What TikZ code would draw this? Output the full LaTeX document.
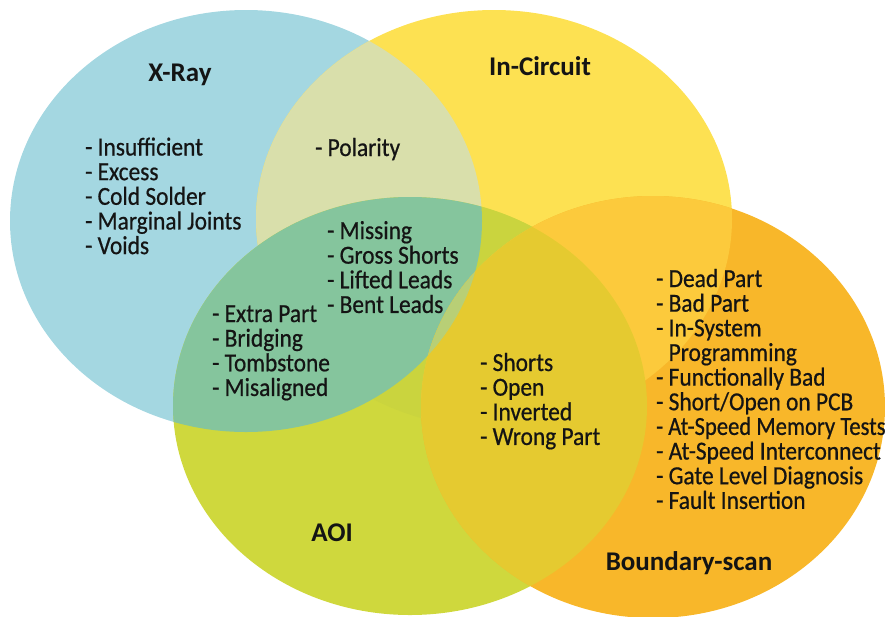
\documentclass[tikz,border=0pt]{standalone}
\usepackage{fontspec}
\setmainfont{Carlito}
\newfontfamily\listfont[FakeStretch=0.9, FakeBold=0.6]{Carlito}
\newfontfamily\listnarrow[FakeStretch=0.87, FakeBold=0.6]{Carlito}

% base colours of the four test methods
\definecolor{cX}{HTML}{A4D7E1}
\definecolor{cIC}{HTML}{FDE152}
\definecolor{cAOI}{HTML}{CFD83D}
\definecolor{cBS}{HTML}{F8B72A}
% colours of the overlaps
\definecolor{cXIC}{HTML}{D9DFAB}
\definecolor{cXAOI}{HTML}{85C59D}
\definecolor{cICAOI}{HTML}{CAD43E}
\definecolor{cICBS}{HTML}{FCCA3C}
\definecolor{cAOIBS}{HTML}{E5CA30}
\definecolor{cXAOIBS}{HTML}{B8CF76}
\definecolor{ink}{HTML}{141414}

% the four ellipses
\newcommand\ellX{(246,221) ellipse [x radius=236, y radius=211]}
\newcommand\ellIC{(494,219) ellipse [x radius=238, y radius=209]}
\newcommand\ellAOI{(410,406) ellipse [x radius=237, y radius=209]}
\newcommand\ellBS{(653,407) ellipse [x radius=232, y radius=211]}

\begin{document}
\begin{tikzpicture}[x=1pt, y=-1pt,
  item/.style={anchor=base west, inner sep=0pt, text=ink,
    font=\listfont\fontsize{26}{30}\selectfont},
  heading/.style={anchor=base, inner sep=0pt, text=ink,
    font=\bfseries\fontsize{27}{31}\selectfont}]
\useasboundingbox (0,0) rectangle (885,616);

% plain circles
\fill[cX] \ellX;
\fill[cIC] \ellIC;
\fill[cAOI] \ellAOI;
\fill[cBS] \ellBS;

% overlaps
\begin{scope}
  \clip \ellX;
  \fill[cXIC] \ellIC;
\end{scope}
\begin{scope}
  \clip \ellIC;
  \fill[cICAOI] \ellAOI;
\end{scope}
\begin{scope}
  \clip \ellX;
  \fill[cXAOI] \ellAOI;
\end{scope}
\begin{scope}
  \clip \ellIC;
  \fill[cICBS] \ellBS;
\end{scope}
\begin{scope}
  \clip \ellAOI;
  \fill[cAOIBS] \ellBS;
\end{scope}
\begin{scope}
  \clip \ellX;
  \clip \ellAOI;
  \fill[cXAOIBS] \ellBS;
\end{scope}

% headings
\node[heading] (tX)   at (180,81.5) {X-Ray};
\node[heading] (tIC)  at (540,75)   {In-Circuit};
\node[heading] (tAOI) at (332,541.5) {AOI};
\node[heading] (tBS)  at (689,570)  {Boundary-scan};

% defect lists
\def\ls{24.65}
\foreach \t [count=\i] in {Insufficient, Excess, Cold Solder, Marginal Joints, Voids}
  \node[item] (xr\i) at (85,155.5+\ls*\i-\ls) {- \t};

\node[item] (pol) at (315,156) {- Polarity};

\foreach \t [count=\i] in {Missing, Gross Shorts, Lifted Leads, Bent Leads}
  \node[item] (ms\i) at (327,239+\ls*\i-\ls) {- \t};

\foreach \t [count=\i] in {Extra Part, Bridging, Tombstone, Misaligned}
  \node[item] (ep\i) at (212,322+\ls*\i-\ls) {- \t};

\foreach \t [count=\i] in {Shorts, Open, Inverted, Wrong Part}
  \node[item] (sh\i) at (480,371+\ls*\i-\ls) {- \t};

\foreach \t [count=\i] in {- Dead Part, - Bad Part, - In-System, \phantom{- }Programming,
    - Functionally Bad, - Short/Open on PCB, {\listnarrow - At-Speed Memory Tests},
    - At-Speed Interconnect, - Gate Level Diagnosis, - Fault Insertion}
  \node[item] (bs\i) at (656,287+\ls*\i-\ls) {\t};
\end{tikzpicture}
\end{document}
